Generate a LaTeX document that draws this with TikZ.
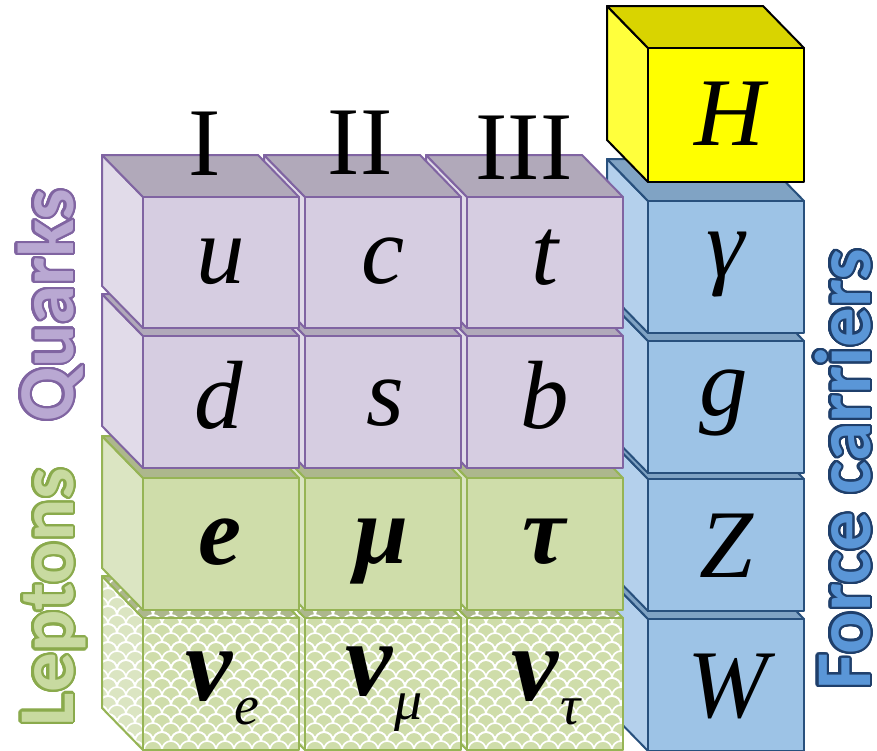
\documentclass[tikz,border=0pt]{standalone}
\usepackage{fontspec}
\setmainfont{Liberation Serif}
\newfontfamily\lblfont{Carlito}
\usepackage{contour}
\contourlength{2.2pt}
\contournumber{32}
\usetikzlibrary{patterns}
\pgfdeclarepatternformonly{scales}{\pgfpoint{-10pt}{-1pt}}{\pgfpoint{28pt}{19pt}}{\pgfpoint{18pt}{18pt}}{%
  \pgfsetlinewidth{1.7pt}%
  \pgfpathmoveto{\pgfpoint{0pt}{0pt}}\pgfpatharc{180}{0}{9pt}%
  \pgfpathmoveto{\pgfpoint{-9pt}{9pt}}\pgfpatharc{180}{0}{9pt}%
  \pgfpathmoveto{\pgfpoint{9pt}{9pt}}\pgfpatharc{180}{0}{9pt}%
  \pgfusepath{stroke}}
% quark colours
\definecolor{qF}{RGB}{214,205,225}
\definecolor{qT}{RGB}{177,169,186}
\definecolor{qL}{RGB}{225,219,233}
\definecolor{qB}{RGB}{128,100,162}
% lepton colours
\definecolor{lF}{RGB}{207,221,170}
\definecolor{lT}{RGB}{173,183,141}
\definecolor{lL}{RGB}{219,229,194}
\definecolor{lB}{RGB}{150,180,85}
% boson colours
\definecolor{bF}{RGB}{157,195,230}
\definecolor{bT}{RGB}{128,163,196}
\definecolor{bL}{RGB}{180,208,236}
\definecolor{bB}{RGB}{40,80,125}
% higgs colours
\definecolor{hF}{RGB}{255,255,0}
\definecolor{hT}{RGB}{217,212,0}
\definecolor{hL}{RGB}{255,255,60}
% label colours
\definecolor{qtxt}{RGB}{185,168,210}
\definecolor{qout}{RGB}{128,100,161}
\definecolor{ltxt}{RGB}{200,218,160}
\definecolor{lout}{RGB}{138,170,76}
\definecolor{btxt}{RGB}{90,150,215}
\definecolor{bout}{RGB}{31,63,107}
\newcommand\cw{156}
% #1 x, #2 y (top-left of front face), #3 family, #4 height
\newcommand\pcube[4]{%
  \path[#3 face, fill=#3L] (#1,#2) -- ++(-41,-42) -- ++(0,#4) -- ++(41,42) -- cycle;
  \path[#3 face, fill=#3T] (#1,#2) -- ++(-41,-42) -- ++(\cw,0) -- ++(41,42) -- cycle;
  \path[#3 face, fill=#3F] (#1,#2) rectangle ++(\cw,#4);
}
\tikzset{
  q face/.style={draw=qB, line width=2pt, line join=round},
  l face/.style={draw=lB, line width=2pt, line join=round},
  b face/.style={draw=bB, line width=2pt, line join=round},
  h face/.style={draw=black, line width=2pt, line join=round},
  n face/.style={line width=2pt, line join=round,
    postaction={pattern=scales, pattern color=white},
    postaction={draw=lB, line width=2pt, line join=round}},
  sym/.style={font=\fontsize{97}{110}\selectfont\itshape, anchor=base, inner sep=0pt},
  bsym/.style={font=\fontsize{97}{110}\selectfont\bfseries\itshape, anchor=base, inner sep=0pt},
  nusym/.style={font=\fontsize{106}{120}\selectfont\bfseries\itshape, anchor=base, inner sep=0pt},
  gen/.style={font=\fontsize{97}{110}\selectfont, anchor=base, inner sep=0pt},
  lbl/.style={font=\lblfont\bfseries\fontsize{79}{90}\selectfont, rotate=90, anchor=base, inner sep=0pt}
}
\colorlet{nF}{lF}\colorlet{nT}{lT}\colorlet{nL}{lL}
\newcommand\sub[1]{{\fontsize{56}{60}\selectfont\mdseries\kern2pt\raisebox{-24pt}{#1}}}
\begin{document}
\begin{tikzpicture}[x=1pt,y=-1pt]
\useasboundingbox (0,0) rectangle (877,750);
\clip (0,0) rectangle (877,750);
% force carriers column (bottom to top)
\pcube{648}{619}{b}{132}
\pcube{648}{479}{b}{132}
\pcube{648}{341}{b}{132}
\pcube{648}{201}{b}{132}
\pcube{648}{48}{h}{134}
% neutrinos
\pcube{467}{618}{n}{132}
\pcube{305}{618}{n}{132}
\pcube{143}{618}{n}{132}
% charged leptons
\pcube{467}{478}{l}{132}
\pcube{305}{478}{l}{132}
\pcube{143}{478}{l}{132}
% down-type quarks
\pcube{467}{336}{q}{132}
\pcube{305}{336}{q}{132}
\pcube{143}{336}{q}{132}
% up-type quarks
\pcube{467}{197}{q}{131}
\pcube{305}{197}{q}{131}
\pcube{143}{197}{q}{131}
% generation numbers
\node[gen] (g1) at (205,175) {I};
\node[gen] (g2) at (360,174) {II};
\node[gen] (g3) at (524,179) {III};
% particle symbols
\node[sym] (u) at (221,283) {u};
\node[sym] (c) at (383,283) {c};
\node[sym] (t) at (545,284) {t};
\node[sym] (d) at (219,428) {d};
\node[sym] (s) at (385,425) {s};
\node[sym] (b) at (545,428) {b};
\node[bsym] (e) at (220,564) {e};
\node[bsym] (mu) at (381,563) {μ};
\node[bsym] (tau) at (544,563) {τ};
\node[nusym] (nue) at (222,700) {ν\sub{e}};
\node[nusym] (numu) at (384,695) {ν\sub{μ}};
\node[nusym] (nutau) at (546,700) {ν\sub{τ}};
\node[sym] (H) at (730,145) {H};
\node[sym] (gamma) at (726,276) {γ};
\node[sym] (gl) at (724,415) {g};
\node[sym] (Z) at (726,577) {Z};
\node[sym] (W) at (728,717) {W};
% side labels
\node[lbl] (quarks) at (73,305) {\color{qtxt}\contour{qout}{Quarks}};
\node[lbl] (leptons) at (73,597) {\color{ltxt}\contour{lout}{Leptons}};
\node[lbl] (force) at (870,469) {\color{btxt}\contour{bout}{Force carriers}};
\end{tikzpicture}
\end{document}
